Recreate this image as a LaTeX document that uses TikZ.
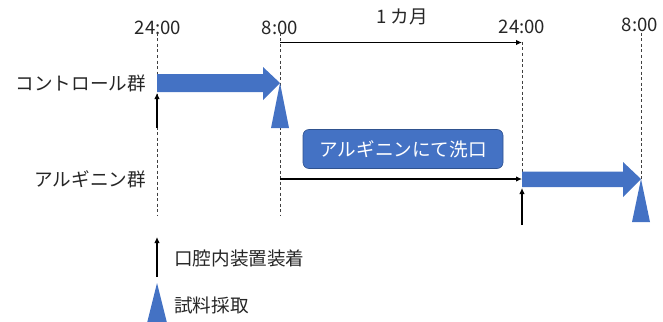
\documentclass[tikz,border=0pt]{standalone}
\usepackage{fontspec}
\setmainfont{Noto Sans CJK JP}
\usetikzlibrary{arrows.meta}
\definecolor{oblue}{HTML}{4472C4}
\definecolor{oblueedge}{HTML}{2F528F}
\begin{document}
\begin{tikzpicture}[x=1pt,y=-1pt,
  lbl/.style={font=\fontsize{18.6}{21}\selectfont, inner sep=0pt, text=black!85},
  guide/.style={dash pattern=on 3pt off 2.5pt, draw=black!75, line width=0.9pt},
  blk/.style={fill=oblue, draw=none},
  thinarrow/.style={-{Latex[length=6pt,width=5.5pt]}, line width=1.1pt, draw=black},
  washbox/.style={fill=oblue, draw=oblueedge, line width=0.6pt, rounded corners=6pt,
    minimum width=200pt, minimum height=39pt, text=white,
    font=\fontsize{18.6}{21}\selectfont}]
\useasboundingbox (0,0) rectangle (663,321);
% time labels
\node[lbl] (t1) at (158,27.5) {24:00};
\node[lbl] (t2) at (280,27.5) {8:00};
\node[lbl] (t3) at (522,26.5) {24:00};
\node[lbl] (t4) at (640,25) {8:00};
\node[lbl] (month) at (402,17) {1 カ月};
% group labels
\node[lbl, anchor=east] (gc) at (146,83) {コントロール群};
\node[lbl, anchor=east] (ga) at (146,179) {アルギニン群};
% guide coordinates
\coordinate (g1top) at (157,33);
\coordinate (g1bot) at (157,216);
\coordinate (g2top) at (280,33);
\coordinate (g2bot) at (280,216);
\coordinate (g3top) at (522,42);
\coordinate (g3bot) at (522,179);
\coordinate (g4top) at (641,33);
\coordinate (g4bot) at (641,179);
\draw[guide] (g1top) -- (g1bot);
\draw[guide] (g2top) -- (g2bot);
\draw[guide] (g3top) -- (g3bot);
\draw[guide] (g4top) -- (g4bot);
% one month arrow
\coordinate (mstart) at (280,42.5);
\coordinate (mend) at (522,42.5);
\draw[thinarrow] (mstart) -- (mend);
% arginine thin line
\coordinate (astart) at (280,179);
\coordinate (aend) at (522,179);
\draw[thinarrow] (astart) -- (aend);
% wash box
\node[washbox] (wash) at (403,149) {アルギニンにて洗口};
% control block arrow
\fill[blk] (157,74) -- (263,74) -- (263,67) -- (280,83) -- (263,100) -- (263,92) -- (157,92) -- cycle;
% arginine block arrow
\fill[blk] (522,171.5) -- (623,171.5) -- (623,162) -- (641,179) -- (623,197) -- (623,187) -- (522,187) -- cycle;
% sampling triangles
\fill[blk] (280,83) -- (289,128) -- (271,128) -- cycle;
\fill[blk] (641,179) -- (650,222) -- (632,222) -- cycle;
% device insertion arrows
\coordinate (i1s) at (157,128);
\coordinate (i1e) at (157,93);
\draw[thinarrow] (i1s) -- (i1e);
\coordinate (i2s) at (522,225);
\coordinate (i2e) at (522,188);
\draw[thinarrow] (i2s) -- (i2e);
% legend
\coordinate (l1s) at (157,277);
\coordinate (l1e) at (157,237);
\draw[thinarrow] (l1s) -- (l1e);
\node[lbl, anchor=west] (legdev) at (174,258) {口腔内装置装着};
\fill[blk] (157,283) -- (167,323) -- (147,323) -- cycle;
\node[lbl, anchor=west] (legsam) at (174,305) {試料採取};
\end{tikzpicture}
\end{document}
